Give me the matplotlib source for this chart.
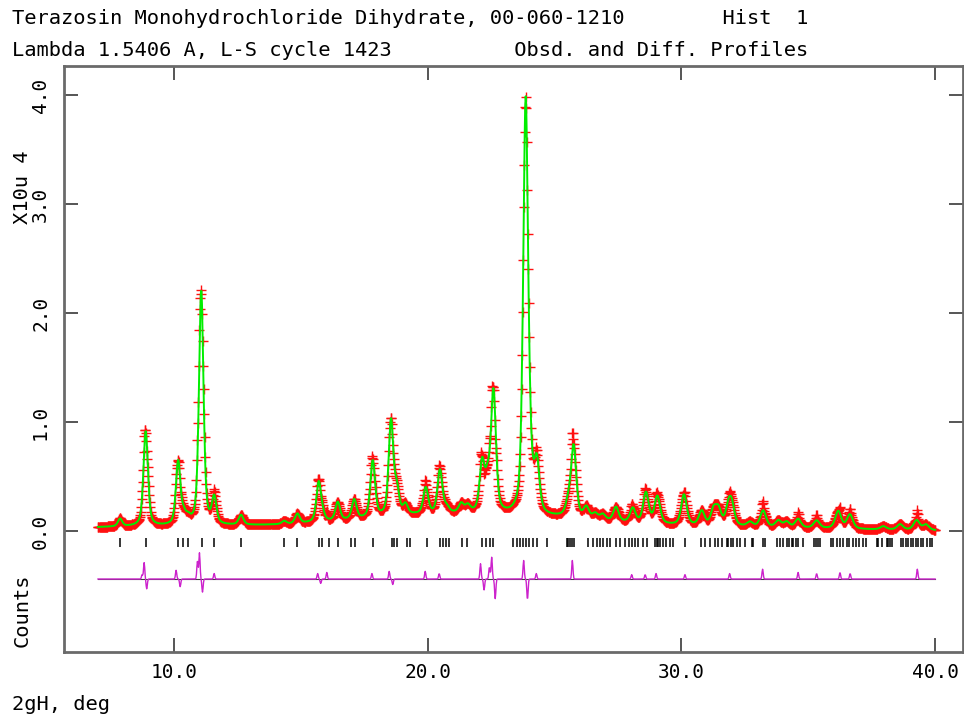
import numpy as np
import matplotlib
matplotlib.use("Agg")
import matplotlib.pyplot as plt

# ---- data (2theta in deg, intensity in 10^4 counts)

# background knots
bg_pos = [7.0, 8.0, 10.0, 12.0, 13.5, 14.5, 15.5, 16.5, 17.5, 18.5, 19.5, 20.5,
          21.5, 22.5, 23.3, 24.5, 25.3, 26.5, 27.5, 28.5, 30.0, 32.0, 34.0, 36.0, 38.0, 40.0]
bg_val = [0.035, 0.04, 0.045, 0.05, 0.055, 0.06, 0.075, 0.09, 0.11, 0.13, 0.145, 0.15,
          0.16, 0.15, 0.13, 0.12, 0.12, 0.10, 0.08, 0.065, 0.05, 0.04, 0.03, 0.02, 0.012, 0.005]

# peaks: position, height above background, fwhm
peak_pos = [7.87, 8.88, 10.16, 10.38, 10.56, 11.07, 11.58, 12.64, 14.34, 14.86,
            15.70, 15.85, 16.45, 17.10, 17.83, 18.55, 18.78, 19.12, 19.92, 20.48,
            20.75, 21.32, 21.58, 22.14, 22.36, 22.59, 23.86, 24.05, 24.30, 25.54,
            25.75, 26.25, 26.60, 26.90, 27.42, 28.08, 28.60, 29.05, 30.10, 30.80,
            31.27, 31.46, 31.85, 31.98, 32.70, 33.22, 33.82, 34.15, 34.60, 35.33,
            36.18, 36.64, 37.96, 38.62, 39.27, 39.64]
peak_hgt = [0.07, 0.87, 0.58, 0.08, 0.05, 2.16, 0.24, 0.09, 0.03, 0.09,
            0.36, 0.05, 0.17, 0.18, 0.52, 0.87, 0.22, 0.09, 0.24, 0.40,
            0.05, 0.08, 0.06, 0.44, 0.26, 1.10, 3.80, 0.20, 0.44, 0.12,
            0.65, 0.10, 0.05, 0.05, 0.13, 0.13, 0.28, 0.25, 0.28, 0.13,
            0.14, 0.14, 0.15, 0.18, 0.04, 0.15, 0.06, 0.05, 0.08, 0.07,
            0.16, 0.13, 0.03, 0.05, 0.09, 0.05]
peak_fwhm = [0.20, 0.21, 0.21, 0.21, 0.21, 0.21, 0.21, 0.22, 0.22, 0.22,
             0.22, 0.22, 0.22, 0.22, 0.22, 0.22, 0.22, 0.22, 0.23, 0.23,
             0.23, 0.23, 0.23, 0.23, 0.23, 0.23, 0.23, 0.23, 0.24, 0.24,
             0.24, 0.25, 0.25, 0.25, 0.25, 0.25, 0.26, 0.26, 0.26, 0.26,
             0.26, 0.26, 0.26, 0.26, 0.27, 0.27, 0.27, 0.27, 0.27, 0.28,
             0.28, 0.28, 0.28, 0.28, 0.28, 0.28]

# difference features: position, obs-calc amplitude
diff_pos = [8.74, 8.82, 8.92, 10.08, 10.24, 10.92, 11.00, 11.12, 11.58, 15.66, 15.78,
            16.02, 17.80, 18.48, 18.62, 19.90, 20.45, 22.08, 22.22, 22.43, 22.52, 22.66,
            23.78, 23.93, 24.28, 25.70, 28.04, 28.57, 29.00, 30.14, 31.90, 33.20,
            34.60, 35.33, 36.25, 36.65, 39.30]
diff_amp = [0.04, 0.15, -0.09, 0.08, -0.07, 0.16, 0.24, -0.12, 0.05, 0.05, -0.04,
            0.06, 0.05, 0.07, -0.05, 0.07, 0.05, 0.14, -0.10, 0.11, 0.20, -0.18,
            0.17, -0.19, 0.05, 0.17, 0.04, 0.04, 0.05, 0.04, 0.05, 0.09,
            0.06, 0.05, 0.06, 0.05, 0.09]

# reflection positions
refl = [7.87, 8.90, 10.17, 10.37, 10.56, 11.09, 11.59, 12.64, 14.34, 14.86, 15.73, 15.82,
        16.12, 16.45, 16.98, 17.13, 17.83, 18.58, 18.68, 18.78, 19.17, 19.30, 19.96, 20.48,
        20.59, 20.72, 20.85, 21.34, 21.54, 22.13, 22.30, 22.46, 22.59, 23.35, 23.51, 23.64,
        23.74, 23.87, 24.01, 24.16, 24.32, 24.69, 25.48, 25.54, 25.61, 25.68, 25.77, 26.33,
        26.50, 26.66, 26.79, 26.92, 27.05, 27.19, 27.42, 27.58, 27.78, 27.95, 28.04, 28.17,
        28.30, 28.47, 28.63, 28.96, 29.02, 29.09, 29.16, 29.26, 29.39, 29.55, 29.68, 30.14,
        30.76, 30.93, 31.13, 31.32, 31.46, 31.59, 31.78, 31.85, 31.94, 32.05, 32.18, 32.31,
        32.51, 32.77, 32.84, 33.20, 33.30, 33.78, 33.89, 34.02, 34.15, 34.25, 34.35, 34.41,
        34.52, 34.61, 34.81, 35.23, 35.31, 35.40, 35.46, 35.88, 35.99, 36.12, 36.25, 36.38,
        36.51, 36.62, 36.75, 36.88, 37.01, 37.15, 37.28, 37.70, 37.76, 37.89, 38.09, 38.16,
        38.22, 38.29, 38.64, 38.75, 38.85, 38.95, 39.04, 39.14, 39.25, 39.34, 39.43, 39.54,
        39.67, 39.80, 39.86]

# ---- build profiles
tth = np.arange(7.0, 40.0001, 0.02)
calc = np.interp(tth, bg_pos, bg_val)
for p, h, w in zip(peak_pos, peak_hgt, peak_fwhm):
    d = (tth - p) / (w / 2)
    calc = calc + h * (0.5 / (1 + d**2) + 0.5 * np.exp(-np.log(2) * d**2))

diff = np.zeros_like(tth)
for p, a in zip(diff_pos, diff_amp):
    diff = diff + a * np.exp(-((tth - p) / 0.035)**2)
obs = calc + diff

diff_off = -0.44

plt.rcParams['font.family'] = ['DejaVu Sans Mono']
fig = plt.figure(figsize=(9.64, 7.17), dpi=100)
ax = fig.add_axes([64/964, 1-652/717, (963-64)/964, (652-66)/717])

ax.plot(tth, obs, '+', color='#ff1010', ms=7, mew=1.0, zorder=2)
ax.plot(tth, calc, color='#00ee00', lw=1.4, zorder=3)
ax.vlines(refl, -0.147, -0.064, color='black', lw=1.1)
ax.plot([7.0, 40.0], [diff_off, diff_off], color='#404040', lw=0.8, zorder=2)
ax.plot(tth, diff + diff_off, color='#cc22cc', lw=1.0, zorder=3)

ax.set_xlim(5.66, 41.1)
ax.set_ylim(-1.11, 4.27)
ax.set_xticks([10, 20, 30, 40])
ax.set_xticklabels(['10.0', '20.0', '30.0', '40.0'])
ax.set_yticks([0, 1, 2, 3, 4])
ax.set_yticklabels(['0.0', '1.0', '2.0', '3.0', '4.0'], rotation=90, va='center')
ax.tick_params(direction='in', length=10, width=1.4, color='#555555',
               top=True, right=True, labelsize=14, pad=8)
ax.tick_params(axis='y', pad=10)
for s in ax.spines.values():
    s.set_color('#6a6a6a')
    s.set_linewidth(2)

fs = 14.7
fig.text(12/964, 1-18/717, 'Terazosin Monohydrochloride Dihydrate, 00-060-1210        Hist  1',
         fontsize=fs, va='center')
fig.text(12/964, 1-51/717, 'Lambda 1.5406 A, L-S cycle 1423          Obsd. and Diff. Profiles',
         fontsize=fs, va='center')
fig.text(22/964, 1-187/717, 'X10u 4', fontsize=fs, rotation=90, ha='center', va='center')
fig.text(22/964, 1-610/717, 'Counts', fontsize=fs, rotation=90, ha='center', va='center')
fig.text(12/964, 1-705/717, '2gH, deg', fontsize=fs, va='center')

fig.savefig('out.png', dpi=100)
